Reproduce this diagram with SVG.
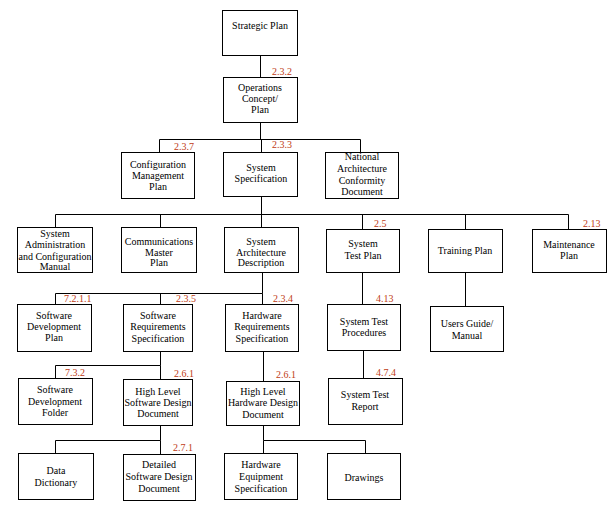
<svg xmlns="http://www.w3.org/2000/svg" width="614" height="506" viewBox="0 0 614 506">
<style>
rect{fill:#fff;stroke:#000;stroke-width:1}
text{font-family:'Liberation Serif','DejaVu Serif',serif;font-size:10px;fill:#000;text-anchor:middle}
text.n{fill:#c03c14;text-anchor:start}
#connectors path{fill:none;stroke:#000;stroke-width:1}
</style>
<rect x="0" y="0" width="614" height="506" style="stroke:none"/>
<g id="connectors">
<path d="M260.5 55V77"/>
<path d="M260.5 122V139.5M159.5 139.5H360.5M159.5 139.5V152M261.5 139.5V152M360.5 139.5V152"/>
<path d="M261.5 196V214.5M55.5 214.5H568.5M55.5 214.5V227M160.5 214.5V227M261.5 214.5V227M362.5 214.5V229M465.5 214.5V229M568.5 214.5V229"/>
<path d="M262.5 272V293.5M55.5 293.5H262.5M55.5 293.5V304M160.5 293.5V304M262.5 293.5V304"/>
<path d="M362.5 273V304"/>
<path d="M465.5 273V306"/>
<path d="M160.5 351V365.5M55.5 365.5H160.5M55.5 365.5V378M160.5 365.5V379"/>
<path d="M263.5 351V381"/>
<path d="M363.5 350V378"/>
<path d="M160.5 425V440.5M55.5 440.5H160.5M55.5 440.5V453M160.5 440.5V454"/>
<path d="M263.5 425V440.5M263.5 440.5H365.5M263.5 440.5V453M365.5 440.5V453"/>
</g>
<g id="strategic"><rect x="222.5" y="10.5" width="75" height="45"/><text x="260" y="29">Strategic Plan</text></g>
<g id="ops"><rect x="223.5" y="77.5" width="74" height="45"/><text x="260" y="91">Operations</text><text x="260" y="102">Concept/</text><text x="260" y="113">Plan</text><text class="n" x="272" y="75">2.3.2</text></g>
<g id="config"><rect x="121.5" y="152.5" width="73" height="46"/><text x="158" y="168">Configuration</text><text x="158" y="179">Management</text><text x="158" y="190">Plan</text><text class="n" x="174" y="150">2.3.7</text></g>
<g id="sysspec"><rect x="223.5" y="152.5" width="74" height="44"/><text x="261" y="171">System</text><text x="261" y="182">Specification</text><text class="n" x="272" y="148">2.3.3</text></g>
<g id="national"><rect x="325.5" y="152.5" width="73" height="46"/><text x="362" y="160">National</text><text x="362" y="172">Architecture</text><text x="362" y="184">Conformity</text><text x="362" y="195">Document</text></g>
<g id="sysadmin"><rect x="17.5" y="227.5" width="75" height="45"/><text x="55" y="237">System</text><text x="55" y="248">Administration</text><text x="55" y="260">and Configuration</text><text x="55" y="270">Manual</text></g>
<g id="comms"><rect x="121.5" y="227.5" width="75" height="45"/><text x="159" y="245">Communications</text><text x="159" y="256">Master</text><text x="159" y="266">Plan</text></g>
<g id="sysarch"><rect x="224.5" y="227.5" width="74" height="45"/><text x="261" y="245">System</text><text x="261" y="256">Architecture</text><text x="261" y="266">Description</text></g>
<g id="systestplan"><rect x="326.5" y="229.5" width="73" height="43"/><text x="363" y="247">System</text><text x="363" y="259">Test Plan</text><text class="n" x="374" y="227">2.5</text></g>
<g id="training"><rect x="428.5" y="229.5" width="74" height="43"/><text x="465" y="254">Training Plan</text></g>
<g id="maintenance"><rect x="532.5" y="229.5" width="74" height="43"/><text x="569" y="248">Maintenance</text><text x="569" y="259">Plan</text><text class="n" x="583" y="227">2.13</text></g>
<g id="swdevplan"><rect x="17.5" y="304.5" width="74" height="47"/><text x="54" y="319">Software</text><text x="54" y="330">Development</text><text x="54" y="341">Plan</text><text class="n" x="64" y="302">7.2.1.1</text></g>
<g id="swreq"><rect x="123.5" y="304.5" width="69" height="47"/><text x="158" y="319">Software</text><text x="158" y="330">Requirements</text><text x="158" y="342">Specification</text><text class="n" x="176" y="302">2.3.5</text></g>
<g id="hwreq"><rect x="225.5" y="304.5" width="73" height="47"/><text x="262" y="319">Hardware</text><text x="262" y="330">Requirements</text><text x="262" y="342">Specification</text><text class="n" x="273" y="302">2.3.4</text></g>
<g id="systestproc"><rect x="327.5" y="304.5" width="73" height="46"/><text x="364" y="325">System Test</text><text x="364" y="336">Procedures</text><text class="n" x="376" y="302">4.13</text></g>
<g id="usersguide"><rect x="430.5" y="306.5" width="73" height="45"/><text x="467" y="327">Users Guide/</text><text x="467" y="339">Manual</text></g>
<g id="swdevfolder"><rect x="18.5" y="378.5" width="74" height="46"/><text x="55" y="393">Software</text><text x="55" y="405">Development</text><text x="55" y="416">Folder</text><text class="n" x="65" y="376">7.3.2</text></g>
<g id="hlsw"><rect x="123.5" y="379.5" width="69" height="46"/><text x="158" y="395">High Level</text><text x="158" y="406">Software Design</text><text x="158" y="417">Document</text><text class="n" x="174" y="377">2.6.1</text></g>
<g id="hlhw"><rect x="226.5" y="381.5" width="73" height="44"/><text x="263" y="395">High Level</text><text x="263" y="406">Hardware Design</text><text x="263" y="418">Document</text><text class="n" x="276" y="378">2.6.1</text></g>
<g id="systestreport"><rect x="328.5" y="378.5" width="74" height="46"/><text x="365" y="398">System Test</text><text x="365" y="410">Report</text><text class="n" x="376" y="376">4.7.4</text></g>
<g id="datadict"><rect x="18.5" y="453.5" width="75" height="46"/><text x="56" y="474">Data</text><text x="56" y="486">Dictionary</text></g>
<g id="detailedsw"><rect x="123.5" y="454.5" width="72" height="46"/><text x="159" y="468">Detailed</text><text x="159" y="480">Software Design</text><text x="159" y="492">Document</text><text class="n" x="173" y="451">2.7.1</text></g>
<g id="hwequip"><rect x="224.5" y="453.5" width="73" height="46"/><text x="261" y="468">Hardware</text><text x="261" y="480">Equipment</text><text x="261" y="492">Specification</text></g>
<g id="drawings"><rect x="327.5" y="453.5" width="73" height="46"/><text x="364" y="481">Drawings</text></g>
</svg>
